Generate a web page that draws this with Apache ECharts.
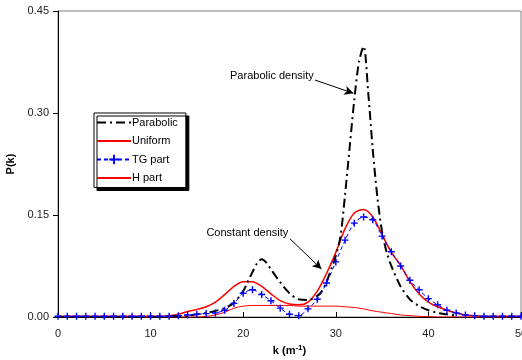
<!DOCTYPE html>
<html><head><meta charset="utf-8">
<script src="https://cdn.jsdelivr.net/npm/echarts@6/dist/echarts.min.js"></script>
<style>html,body{margin:0;padding:0;background:#fff}#c{width:522px;height:360px}</style>
</head><body><div id="c"></div>
<script>
// Parabolic density (non-uniform k sampling)
const kParabolic = [0,2,4,6,8,10,12,14,15,16,17,18,19,20,20.5,21,21.5,22,22.5,23,24,25,26,27,28,28.5,29,29.5,30,30.5,31,31.5,32,32.5,33,33.5,34,34.5,35,35.5,36,37,38,39,40,41,42,43];
const vParabolic = [0,0,0,0,0,0,0.001,0.002,0.004,0.006,0.009,0.013,0.021,0.038,0.052,0.066,0.079,0.085,0.080,0.070,0.051,0.035,0.026,0.025,0.031,0.038,0.052,0.070,0.090,0.118,0.180,0.250,0.320,0.375,0.398,0.330,0.245,0.175,0.125,0.095,0.075,0.045,0.026,0.016,0.010,0.006,0.004,0.002];
// k = 0..50 step 1
const kGrid = [0,1,2,3,4,5,6,7,8,9,10,11,12,13,14,15,16,17,18,19,20,21,22,23,24,25,26,27,28,29,30,31,32,33,34,35,36,37,38,39,40,41,42,43,44,45,46,47,48,49,50];
const vUniform = [0.001,0.001,0.001,0.001,0.001,0.001,0.001,0.001,0.001,0.001,0.001,0.001,0.002,0.004,0.008,0.011,0.015,0.022,0.033,0.045,0.052,0.052,0.045,0.034,0.024,0.019,0.018,0.022,0.038,0.064,0.095,0.130,0.153,0.158,0.147,0.121,0.095,0.076,0.052,0.034,0.022,0.015,0.010,0.006,0.003,0.002,0.001,0.001,0.001,0.001,0.001];
const vTG = [0.001,0.001,0.001,0.001,0.001,0.001,0.001,0.001,0.001,0.001,0.001,0.001,0.001,0.002,0.003,0.004,0.005,0.006,0.010,0.020,0.035,0.040,0.033,0.024,0.013,0.004,0.002,0.012,0.026,0.050,0.081,0.113,0.138,0.147,0.143,0.119,0.096,0.075,0.054,0.040,0.027,0.018,0.010,0.006,0.003,0.002,0.001,0.001,0.001,0.001,0.001];
const vH = [0,0,0,0,0,0,0,0,0,0,0,0,0,0,0,0,0.001,0.003,0.007,0.013,0.016,0.017,0.017,0.017,0.017,0.017,0.016,0.016,0.016,0.016,0.016,0.015,0.014,0.012,0.009,0.007,0.005,0.003,0.002,0.001,0.0005,0,0,0,0,0,0,0,0,0,0];
const seriesNames = ['Parabolic','Uniform','TG part','H part'];
const xTicks = [0,10,20,30,40,50];
const yTicks = [0,0.15,0.30,0.45];

const pairs = (ks, vs) => ks.map((k,i)=>[k, vs[i]]);
const FONT = 'Liberation Sans';
const chart = echarts.init(document.getElementById('c'), null, {renderer:'canvas'});
const plus = 'path://M-1,-5H1V-1H5V1H1V5H-1V1H-5V-1H-1Z';
const clear = 'rgba(0,0,0,0)';

chart.setOption({
  animation:false,
  textStyle:{fontFamily:FONT},
  grid:{left:58, right:1, top:11, bottom:43, containLabel:false, outerBoundsMode:'none',
        show:true, borderColor:'#808080', borderWidth:1},
  legend:{
    orient:'vertical', left:94, top:113,
    data:seriesNames,
    itemWidth:34, itemHeight:12, itemGap:7.5,
    padding:[4,8,4,2],
    backgroundColor:'#fff', borderColor:'#000', borderWidth:1,
    shadowColor:'#000', shadowOffsetX:3, shadowOffsetY:3, shadowBlur:0,
    textStyle:{fontFamily:FONT, fontSize:11, color:'#000', padding:[0,0,0,-4]}
  },
  xAxis:{
    type:'value', min:0, max:50, interval:10,
    name:'k (m{s|-1})', nameLocation:'middle', nameGap:27,
    nameTextStyle:{fontFamily:FONT, fontWeight:'bold', fontSize:11, color:'#000',
      rich:{s:{fontSize:8, fontWeight:'bold', verticalAlign:'top', padding:[0,0,6,0], fontFamily:FONT}}},
    axisLine:{lineStyle:{color:'#000', width:1}},
    axisTick:{inside:true, length:5, lineStyle:{color:'#000'}},
    axisLabel:{fontFamily:FONT, fontSize:11, color:'#222', margin:11,
      formatter:v=>xTicks.includes(v)?String(v):''},
    splitLine:{show:false}
  },
  yAxis:{
    type:'value', min:0, max:0.45, interval:0.15,
    name:'P(k)', nameLocation:'middle', nameGap:40, nameRotate:90,
    nameTextStyle:{fontFamily:FONT, fontWeight:'bold', fontSize:11, color:'#000'},
    axisLine:{lineStyle:{color:'#000', width:1}},
    axisTick:{inside:false, length:5, lineStyle:{color:'#000'}},
    axisLabel:{fontFamily:FONT, fontSize:11, color:'#222', margin:9,
      formatter:v=>yTicks.some(t=>Math.abs(t-v)<1e-9)?v.toFixed(2):''},
    splitLine:{show:false}
  },
  series:[
    {name:seriesNames[0], type:'line', data:pairs(kParabolic,vParabolic), smooth:0.3, showSymbol:false, symbol:'none',
     lineStyle:{color:'#000', width:2, type:[9,4,2,4]}, itemStyle:{color:clear, borderColor:clear}, z:3,
     markLine:{silent:true, symbol:['none','arrow'], symbolSize:[7,9],
       lineStyle:{color:'#000', width:1, type:'solid'}, label:{show:false},
       data:[
         [{coord:[27.75,0.3485]},{coord:[31.9,0.329]}],
         [{coord:[25.05,0.115]},{coord:[28.45,0.0706]}]
       ]}},
    {name:seriesNames[1], type:'line', data:pairs(kGrid,vUniform), smooth:0.3, showSymbol:false, symbol:'none',
     lineStyle:{color:'#ff0000', width:1.5}, itemStyle:{color:clear, borderColor:clear}, z:2},
    {name:seriesNames[2], type:'line', data:pairs(kGrid,vTG), smooth:0.3, symbol:plus, symbolSize:7, showSymbol:true,
     lineStyle:{color:'#0000ff', width:1, type:[4,3]}, itemStyle:{color:'#0000ff', borderWidth:0}, z:4},
    {name:seriesNames[3], type:'line', data:pairs(kGrid,vH), smooth:0.3, showSymbol:false, symbol:'none',
     lineStyle:{color:'#ff0000', width:1}, itemStyle:{color:clear, borderColor:clear}, z:2}
  ]
});

function placeText(){
  const p1 = chart.convertToPixel({gridIndex:0},[23.1,0.355]);
  const p2 = chart.convertToPixel({gridIndex:0},[20.45,0.1235]);
  chart.setOption({graphic:[
    {type:'text', x:p1[0], y:p1[1], style:{text:'Parabolic density', fontFamily:FONT, fontSize:11, fill:'#000', align:'center', verticalAlign:'middle'}},
    {type:'text', x:p2[0], y:p2[1], style:{text:'Constant density', fontFamily:FONT, fontSize:11, fill:'#000', align:'center', verticalAlign:'middle'}}
  ]});
}
placeText();
</script></body></html>
